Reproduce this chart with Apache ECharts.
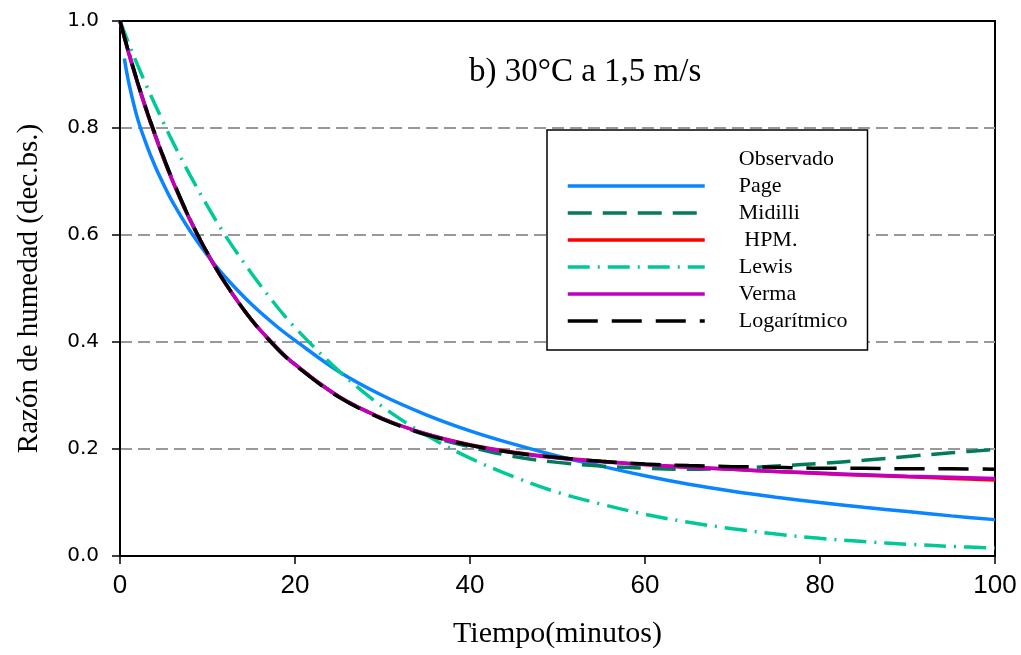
<!DOCTYPE html>
<html>
<head>
<meta charset="utf-8">
<script src="https://cdn.jsdelivr.net/npm/echarts@6/dist/echarts.min.js"></script>
<style>
html,body{margin:0;padding:0;background:#fff;}
#chart{width:1021px;height:655px;}
</style>
</head>
<body>
<div id="chart"></div>
<script>
// ---- data ----
const times = [0,1,2,3,4,5,6,8,10,12,15,18,20,25,30,35,40,45,50,55,60,65,70,75,80,85,90,95,100];
const timesPage = [0.5,1,2,3,4,5,6,8,10,12,15,18,20,25,30,35,40,45,50,55,60,65,70,75,80,85,90,95,100];
const page = [0.930,0.885,0.818,0.770,0.729,0.694,0.662,0.608,0.562,0.522,0.471,0.428,0.403,0.345,0.300,0.264,0.234,0.209,0.187,0.168,0.150,0.134,0.121,0.110,0.100,0.091,0.083,0.075,0.068];
const midilli = [1.000,0.942,0.887,0.836,0.789,0.745,0.704,0.630,0.566,0.511,0.442,0.388,0.358,0.298,0.257,0.226,0.204,0.186,0.175,0.168,0.164,0.162,0.164,0.168,0.173,0.179,0.186,0.193,0.199];
const hpm = [1.000,0.939,0.884,0.833,0.786,0.742,0.701,0.628,0.565,0.510,0.442,0.388,0.358,0.298,0.257,0.228,0.208,0.194,0.184,0.177,0.171,0.166,0.162,0.158,0.154,0.151,0.148,0.145,0.142];
const lewis = [1.000,0.958,0.918,0.880,0.844,0.809,0.775,0.712,0.654,0.600,0.529,0.465,0.427,0.346,0.279,0.226,0.183,0.148,0.119,0.097,0.078,0.063,0.051,0.041,0.033,0.027,0.022,0.018,0.015];
const verma = [1.000,0.940,0.885,0.834,0.787,0.743,0.702,0.628,0.565,0.511,0.442,0.388,0.358,0.298,0.257,0.228,0.207,0.193,0.183,0.176,0.171,0.166,0.162,0.158,0.155,0.152,0.149,0.147,0.145];
const logaritmico = [1.000,0.941,0.886,0.835,0.788,0.744,0.703,0.629,0.566,0.511,0.442,0.387,0.357,0.297,0.256,0.227,0.207,0.193,0.184,0.177,0.172,0.169,0.167,0.166,0.164,0.164,0.163,0.163,0.162];
const seriesNames = ['Observado','Page','Midilli',' HPM.','Lewis','Verma','Logarítmico'];
const titleText = 'b) 30°C a 1,5 m/s';
const xTitle = 'Tiempo(minutos)';
const yTitle = 'Razón de humedad (dec.bs.)';

function pairs(xs, ys){ return xs.map((x,i)=>[x, ys[i]]); }

const chart = echarts.init(document.getElementById('chart'), null, {renderer:'canvas'});
const serif = '"Liberation Serif","Times New Roman",serif';

function lineSeries(name, xs, ys, color, type, width){
  return {
    name: name, type: 'line', data: pairs(xs, ys), smooth: 0.35,
    symbol: 'none', showSymbol: false, silent: true, animation: false,
    itemStyle: {color: color, opacity: 0},
    lineStyle: {color: color, width: width, type: type, cap: 'butt', opacity: 1}
  };
}

const option = {
  animation: false,
  backgroundColor: '#fff',
  title: {
    text: titleText, left: 464, top: 51,
    textStyle: {fontFamily: serif, fontSize: 33, fontWeight: 'normal', color: '#000'}
  },
  grid: {left: 120, right: 26, top: 21, bottom: 99, show: true, borderColor: '#000', borderWidth: 2, backgroundColor: 'transparent'},
  legend: {
    orient: 'vertical', left: 547, top: 130,
    padding: [18, 20, 18, 19],
    borderColor: '#000', borderWidth: 1.5, backgroundColor: '#fff',
    itemWidth: 137, itemHeight: 14, itemGap: 5,
    itemStyle: {opacity: 0, borderWidth: 0},
    lineStyle: {width: 3.5},
    textStyle: {fontFamily: serif, fontSize: 22, color: '#000', lineHeight: 22, padding: [0, 0, 0, 29]},
    data: [
      {name: seriesNames[0], icon: 'none'},
      seriesNames[1], seriesNames[2], seriesNames[3], seriesNames[4], seriesNames[5], seriesNames[6]
    ]
  },
  xAxis: {
    type: 'value', min: 0, max: 100, interval: 20,
    name: xTitle, nameLocation: 'middle', nameGap: 63,
    nameTextStyle: {fontFamily: serif, fontSize: 30, color: '#000'},
    axisLine: {show: true, onZero: false, lineStyle: {color: '#000', width: 2}},
    axisTick: {show: true, inside: false, length: 8, lineStyle: {color: '#000', width: 1.5}},
    axisLabel: {margin: 17, fontFamily: '"Liberation Sans Narrow","Arial Narrow","Liberation Sans",sans-serif', fontSize: 26, color: '#000'},
    splitLine: {show: false}
  },
  yAxis: {
    type: 'value', min: 0, max: 1, interval: 0.2,
    name: yTitle, nameLocation: 'middle', nameGap: 76, nameRotate: 90,
    nameTextStyle: {fontFamily: serif, fontSize: 29, color: '#000'},
    axisLine: {show: true, onZero: false, lineStyle: {color: '#000', width: 2}},
    axisTick: {show: true, inside: false, length: 8, lineStyle: {color: '#000', width: 1.5}},
    axisLabel: {margin: 21, fontFamily: '"DejaVu Sans",sans-serif', fontSize: 20, color: '#000',
      formatter: v => v.toFixed(1)},
    splitLine: {show: true, showMinLine: false, showMaxLine: false, lineStyle: {color: '#999', width: 2, type: [12, 6]}}
  },
  series: [
    {name: seriesNames[0], type: 'line', data: [], symbol: 'none', itemStyle: {color: '#000'}, lineStyle: {width: 0}},
    lineSeries(seriesNames[1], timesPage, page, '#0a84ff', 'solid', 3.5),
    lineSeries(seriesNames[2], times, midilli, '#037a5c', [24, 11], 3.5),
    lineSeries(seriesNames[3], times, hpm, '#ff0000', 'solid', 3.5),
    lineSeries(seriesNames[4], times, lewis, '#00c896', [22, 8, 2, 8], 3.5),
    lineSeries(seriesNames[5], times, verma, '#c000c0', 'solid', 3.5),
    lineSeries(seriesNames[6], times, logaritmico, '#000000', [30, 14], 3.5)
  ]
};
chart.setOption(option);
</script>
</body>
</html>
